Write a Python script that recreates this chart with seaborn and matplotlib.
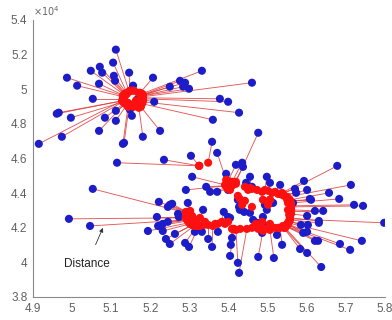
import numpy as np
import pandas as pd
import matplotlib
matplotlib.use("Agg")
import matplotlib.pyplot as plt
import seaborn as sns
from matplotlib.collections import LineCollection
from matplotlib.ticker import FuncFormatter, MultipleLocator

# Data points (y in units of 1e4) and the point each one links to

blue_x = [5.112, 5.105, 5.071, 5.048, 5.077, 5.107, 5.146, 5.110, 4.987, 5.069,
          5.013, 5.156, 5.207, 5.053, 5.210, 4.966, 4.961, 4.997, 5.084, 5.112,
          5.112, 5.148, 5.153, 5.069, 4.974, 4.915, 5.133, 5.181, 5.225, 5.166,
          5.332, 5.276, 5.289, 5.250, 5.284, 5.299, 5.460, 5.378, 5.399, 5.427,
          5.360, 5.130,
          5.115, 5.235, 5.304, 5.358, 5.371, 5.419, 5.435, 5.437, 5.476, 5.394,
          5.307, 5.053, 5.291, 5.343, 5.353, 5.371, 5.399, 5.222, 5.250, 5.256,
          5.245, 5.296, 5.335, 5.388, 5.399, 5.427, 5.440, 5.271, 5.273, 5.217,
          4.992, 5.046, 5.220, 5.232, 5.245, 5.194, 5.232, 5.263, 5.240, 5.250,
          5.289, 5.299, 5.314, 5.332, 5.348, 5.358, 5.373, 5.404, 5.409, 5.406,
          5.404, 5.424, 5.427, 5.476, 5.516, 5.486, 5.498, 5.429, 5.455, 5.463,
          5.473, 5.524, 5.657, 5.683, 5.721, 5.744, 5.608, 5.565, 5.621, 5.642,
          5.601, 5.631, 5.631, 5.585, 5.603, 5.798, 5.591, 5.601, 5.621, 5.629,
          5.685, 5.741, 5.711, 5.583, 5.601, 5.537, 5.637, 5.488, 5.498, 5.506,
          5.678, 5.713, 5.593, 5.601, 5.570, 5.573, 5.611, 5.532, 5.506, 5.498,
          5.455, 5.445, 5.460, 5.514, 5.493, 5.424]
blue_y = [5.228, 5.153, 5.129, 5.106, 5.095, 5.077, 5.095, 5.048, 5.066, 5.031,
          5.020, 5.020, 5.066, 4.944, 4.927, 4.864, 4.858, 4.835, 4.835, 4.875,
          4.817, 4.881, 4.846, 4.759, 4.725, 4.684, 4.690, 4.725, 4.759, 4.939,
          5.106, 5.048, 5.037, 5.014, 5.014, 5.002, 5.037, 4.944, 4.927, 4.864,
          4.823, 4.684,
          4.575, 4.592, 4.615, 4.696, 4.632, 4.563, 4.575, 4.551, 4.748, 4.511,
          4.494, 4.424, 4.418, 4.436, 4.407, 4.407, 4.418, 4.349, 4.332, 4.338,
          4.320, 4.343, 4.303, 4.291, 4.262, 4.320, 4.291, 4.280, 4.262, 4.262,
          4.251, 4.210, 4.210, 4.222, 4.234, 4.181, 4.181, 4.164, 4.135, 4.106,
          4.112, 4.089, 4.176, 4.176, 4.135, 4.089, 4.176, 4.257, 4.141, 4.101,
          4.037, 3.997, 3.939, 4.031, 4.025, 4.170, 4.210, 4.303, 4.286, 4.245,
          4.228, 4.158, 4.401, 4.366, 4.332, 4.326, 4.366, 4.343, 4.297, 4.297,
          4.268, 4.239, 4.228, 4.216, 4.216, 4.228, 4.170, 4.176, 4.124, 4.124,
          4.106, 4.124, 4.072, 4.077, 4.054, 4.101, 3.973, 4.262, 4.303, 4.343,
          4.557, 4.447, 4.470, 4.418, 4.424, 4.401, 4.361, 4.447, 4.459, 4.494,
          4.494, 4.459, 4.436, 4.343, 4.332, 4.361]

red_x = [5.146, 5.140, 5.135, 5.133, 5.135, 5.140, 5.148, 5.138, 5.130, 5.133,
         5.130, 5.153, 5.174, 5.130, 5.181, 5.130, 5.130, 5.133, 5.135, 5.140,
         5.140, 5.153, 5.158, 5.135, 5.130, 5.128, 5.146, 5.171, 5.176, 5.163,
         5.179, 5.181, 5.181, 5.179, 5.181, 5.181, 5.181, 5.181, 5.181, 5.181,
         5.179, 5.143,
         5.325, 5.325, 5.325, 5.348, 5.394, 5.399, 5.409, 5.414, 5.419, 5.396,
         5.391, 5.291, 5.394, 5.394, 5.396, 5.399, 5.404, 5.291, 5.294, 5.296,
         5.294, 5.302, 5.327, 5.383, 5.391, 5.429, 5.442, 5.294, 5.294, 5.291,
         5.291, 5.294, 5.296, 5.296, 5.299, 5.299, 5.302, 5.309, 5.307, 5.312,
         5.320, 5.325, 5.327, 5.337, 5.348, 5.360, 5.373, 5.399, 5.412, 5.409,
         5.414, 5.419, 5.447, 5.488, 5.506, 5.493, 5.506, 5.435, 5.460, 5.470,
         5.476, 5.527, 5.557, 5.560, 5.560, 5.560, 5.557, 5.552, 5.560, 5.560,
         5.560, 5.557, 5.557, 5.555, 5.555, 5.557, 5.550, 5.552, 5.545, 5.547,
         5.550, 5.552, 5.547, 5.539, 5.542, 5.532, 5.545, 5.486, 5.501, 5.506,
         5.539, 5.550, 5.537, 5.542, 5.532, 5.537, 5.550, 5.519, 5.501, 5.493,
         5.455, 5.442, 5.460, 5.506, 5.488, 5.424]
red_y = [4.985, 4.979, 4.973, 4.968, 4.968, 4.973, 4.991, 4.968, 4.962, 4.962,
         4.956, 4.991, 4.979, 4.944, 4.939, 4.933, 4.933, 4.927, 4.921, 4.916,
         4.910, 4.910, 4.898, 4.916, 4.927, 4.933, 4.904, 4.892, 4.898, 4.933,
         4.973, 4.968, 4.968, 4.962, 4.962, 4.962, 4.956, 4.950, 4.944, 4.927,
         4.916, 4.898,
         4.557, 4.557, 4.557, 4.575, 4.476, 4.470, 4.465, 4.453, 4.465, 4.476,
         4.447, 4.286, 4.442, 4.442, 4.430, 4.424, 4.418, 4.291, 4.291, 4.286,
         4.286, 4.297, 4.257, 4.234, 4.222, 4.366, 4.355, 4.268, 4.257, 4.262,
         4.257, 4.245, 4.239, 4.245, 4.245, 4.228, 4.222, 4.216, 4.216, 4.210,
         4.210, 4.210, 4.210, 4.216, 4.216, 4.210, 4.222, 4.234, 4.193, 4.193,
         4.193, 4.187, 4.193, 4.181, 4.187, 4.193, 4.222, 4.332, 4.320, 4.222,
         4.210, 4.199, 4.361, 4.343, 4.326, 4.320, 4.349, 4.343, 4.303, 4.297,
         4.280, 4.257, 4.245, 4.239, 4.234, 4.251, 4.222, 4.222, 4.210, 4.210,
         4.216, 4.228, 4.210, 4.205, 4.199, 4.199, 4.199, 4.234, 4.332, 4.361,
         4.395, 4.378, 4.401, 4.384, 4.395, 4.390, 4.361, 4.407, 4.413, 4.418,
         4.430, 4.436, 4.424, 4.361, 4.361, 4.384]

# extra points on the curve whose data points sit under the blob
curve_x = [5.340, 5.366, 5.430, 5.460, 5.476, 5.519, 5.539, 5.450, 5.473, 5.486,
           5.511, 5.527, 5.419, 5.409, 5.552, 5.555, 5.401, 5.158, 5.169, 5.176,
           5.166, 5.133, 5.143, 5.307, 5.317, 5.302]
curve_y = [4.234, 4.222, 4.193, 4.199, 4.193, 4.199, 4.210, 4.418, 4.418, 4.407,
           4.401, 4.395, 4.453, 4.442, 4.303, 4.274, 4.453, 4.991, 4.979, 4.950,
           4.904, 4.939, 4.921, 4.268, 4.245, 4.280]

x_ticks = [4.9, 5.0, 5.1, 5.2, 5.3, 5.4, 5.5, 5.6, 5.7, 5.8]

df_blue = pd.DataFrame({"x": blue_x, "y": blue_y})
df_red = pd.DataFrame({"x": red_x + curve_x, "y": red_y + curve_y})

# Figure

sns.set_style("white")
plt.rcParams["font.family"] = ["Liberation Sans", "DejaVu Sans"]

fig = plt.figure(figsize=(3.92, 3.2), dpi=100)
ax = fig.add_axes([0.084, 0.072, 0.898, 0.866])

segs = [[(bx, by), (rx, ry)] for bx, by, rx, ry in zip(blue_x, blue_y, red_x, red_y)]
ax.add_collection(LineCollection(segs, colors="#e03a3a", linewidths=0.65, alpha=0.85, zorder=1))

sns.scatterplot(data=df_blue, x="x", y="y", ax=ax, color="#1c1cc8", s=34,
                edgecolor="none", zorder=2, legend=False)
sns.scatterplot(data=df_red, x="x", y="y", ax=ax, color="#ff1010", s=34,
                edgecolor="none", zorder=3, legend=False)

ax.set_xlim(4.9, 5.8)
ax.set_ylim(3.8, 5.4)
ax.set_xticks(x_ticks)
ax.yaxis.set_major_locator(MultipleLocator(0.2))
fmt = FuncFormatter(lambda v, p: "%g" % round(v, 2))
ax.xaxis.set_major_formatter(fmt)
ax.yaxis.set_major_formatter(fmt)
ax.set_xlabel("")
ax.set_ylabel("")

for side in ["top", "right"]:
    ax.spines[side].set_visible(False)
for side in ["left", "bottom"]:
    ax.spines[side].set_color("#8a8a8a")
    ax.spines[side].set_linewidth(0.8)
ax.tick_params(direction="in", length=3, width=0.6, colors="#8a8a8a",
               labelcolor="#606060", labelsize=8.5, pad=4)

ax.text(0.0, 1.005, r"$\times10^4$", transform=ax.transAxes, fontsize=7,
        color="#666666", ha="left", va="bottom")

ax.annotate("Distance", xy=(5.079, 4.199), xytext=(4.98, 3.99),
            fontsize=8.5, color="#222222", va="center", ha="left",
            arrowprops=dict(arrowstyle="-|>", color="#333333", lw=0.6,
                            mutation_scale=6, shrinkA=8, shrinkB=0))

fig.savefig("out.png", dpi=100)
